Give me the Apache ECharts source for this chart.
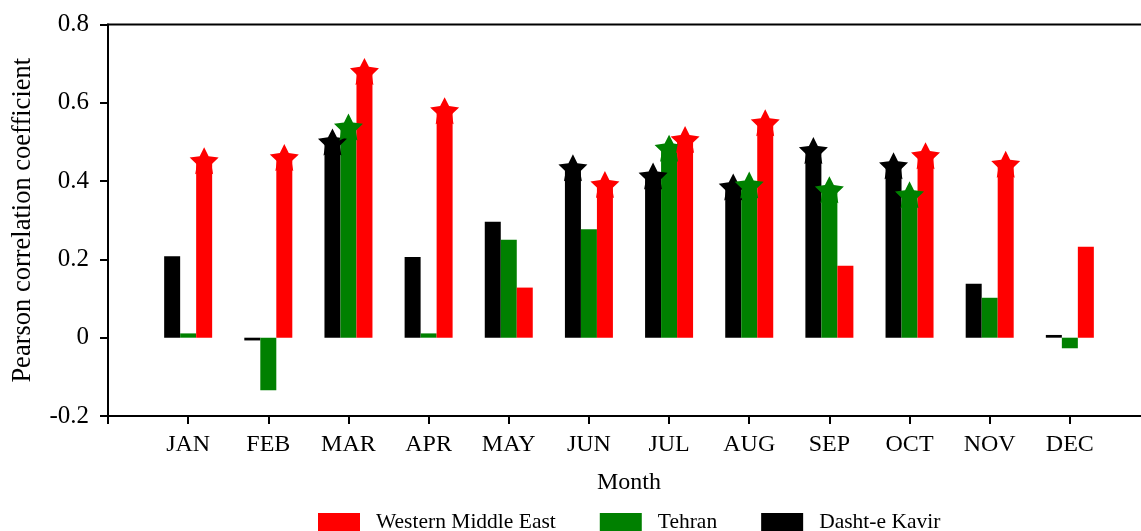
<!DOCTYPE html>
<html>
<head>
<meta charset="utf-8">
<script src="https://cdn.jsdelivr.net/npm/echarts@6/dist/echarts.min.js"></script>
<style>
html, body { margin: 0; padding: 0; background: #fff; }
#chart { width: 1141px; height: 531px; }
</style>
</head>
<body>
<div id="chart"></div>
<script>
// data
const months = ['JAN', 'FEB', 'MAR', 'APR', 'MAY', 'JUN', 'JUL', 'AUG', 'SEP', 'OCT', 'NOV', 'DEC']
const dashtKavir = [0.208, -0.007, 0.500, 0.206, 0.296, 0.434, 0.413, 0.385, 0.478, 0.439, 0.138, 0.007]
const tehran = [0.011, -0.134, 0.538, 0.011, 0.250, 0.277, 0.484, 0.390, 0.378, 0.365, 0.102, -0.027]
const westernME = [0.452, 0.460, 0.680, 0.580, 0.128, 0.391, 0.506, 0.549, 0.184, 0.465, 0.443, 0.232]
// 1 = significant (star drawn on top of bar)
const sigDashtKavir = [0, 0, 1, 0, 0, 1, 1, 1, 1, 1, 0, 0]
const sigTehran = [0, 0, 1, 0, 0, 0, 1, 1, 1, 1, 0, 0]
const sigWesternME = [1, 1, 1, 1, 0, 1, 1, 1, 0, 1, 1, 0]
const yTicks = [-0.2, 0, 0.2, 0.4, 0.6, 0.8]

const font = 'Liberation Serif'
// a fairly fat five-pointed star
const star = 'path://M50,0 L64.7,29.8 L97.6,34.5 L73.8,57.7 L79.4,90.5 L50,75 L20.6,90.5 L26.2,57.7 L2.4,34.5 L35.3,29.8 Z'

// axis runs 0..13, months sit on ticks 1..12
const pad = arr => ['-', ...arr, '-']
const starData = (vals, sig) => pad(vals.map((v, i) => sig[i] ? v : '-'))

const bar = (name, vals, color) => ({
    name: name,
    type: 'bar',
    data: pad(vals),
    barWidth: 16,
    barGap: '0%',
    itemStyle: { color: color },
    z: 2
})
const stars = (name, vals, sig, color, dx) => ({
    name: name,
    type: 'scatter',
    data: starData(vals, sig),
    symbol: star,
    symbolSize: [29, 27],
    symbolOffset: [dx, 0],
    itemStyle: { color: color, opacity: 1 },
    z: 5
})

const option = {
    animation: false,
    textStyle: { fontFamily: font },
    grid: {
        left: 108,
        top: 24.5,
        right: -9,
        bottom: 115,
        outerBoundsMode: 'none',
        containLabel: false,
        show: true,
        borderColor: '#000',
        borderWidth: 2
    },
    legend: {
        data: ['Western Middle East', 'Tehran', 'Dasht-e Kavir'],
        left: 313,
        top: 506,
        itemWidth: 42,
        itemHeight: 18,
        itemGap: 44,
        icon: 'rect',
        textStyle: { fontFamily: font, fontSize: 21.5, color: '#000', padding: [0, 0, 0, 11] }
    },
    xAxis: {
        type: 'category',
        boundaryGap: false,
        data: pad(months).map(m => m === '-' ? '' : m),
        name: 'Month',
        nameLocation: 'middle',
        nameGap: 55,
        nameTextStyle: { fontFamily: font, fontSize: 24, color: '#000' },
        axisLine: { onZero: false, lineStyle: { color: '#000', width: 2 } },
        axisTick: { show: true, length: 8, lineStyle: { color: '#000', width: 2 }, interval: 0 },
        axisLabel: { interval: 0, margin: 17, fontFamily: font, fontSize: 24, color: '#000' },
        splitLine: { show: false }
    },
    yAxis: {
        type: 'value',
        min: yTicks[0],
        max: yTicks[yTicks.length - 1],
        interval: 0.2,
        name: 'Pearson correlation coefficient',
        nameLocation: 'middle',
        nameGap: 71,
        nameTextStyle: { fontFamily: font, fontSize: 26.5, color: '#000' },
        axisLine: { show: true, lineStyle: { color: '#000', width: 2 } },
        axisTick: { show: true, length: 8, lineStyle: { color: '#000', width: 2 } },
        axisLabel: {
            margin: 19,
            fontFamily: font,
            fontSize: 25,
            color: '#000',
            formatter: v => Math.abs(v) < 1e-9 ? '0' : v.toFixed(1)
        },
        splitLine: { show: false }
    },
    series: [
        bar('Dasht-e Kavir', dashtKavir, '#000000'),
        bar('Tehran', tehran, '#008000'),
        bar('Western Middle East', westernME, '#ff0000'),
        stars('sigDK', dashtKavir, sigDashtKavir, '#000000', -16),
        stars('sigTeh', tehran, sigTehran, '#008000', 0),
        stars('sigWME', westernME, sigWesternME, '#ff0000', 16)
    ]
}

const myChart = echarts.init(document.getElementById('chart'))
myChart.setOption(option)
</script>
</body>
</html>
